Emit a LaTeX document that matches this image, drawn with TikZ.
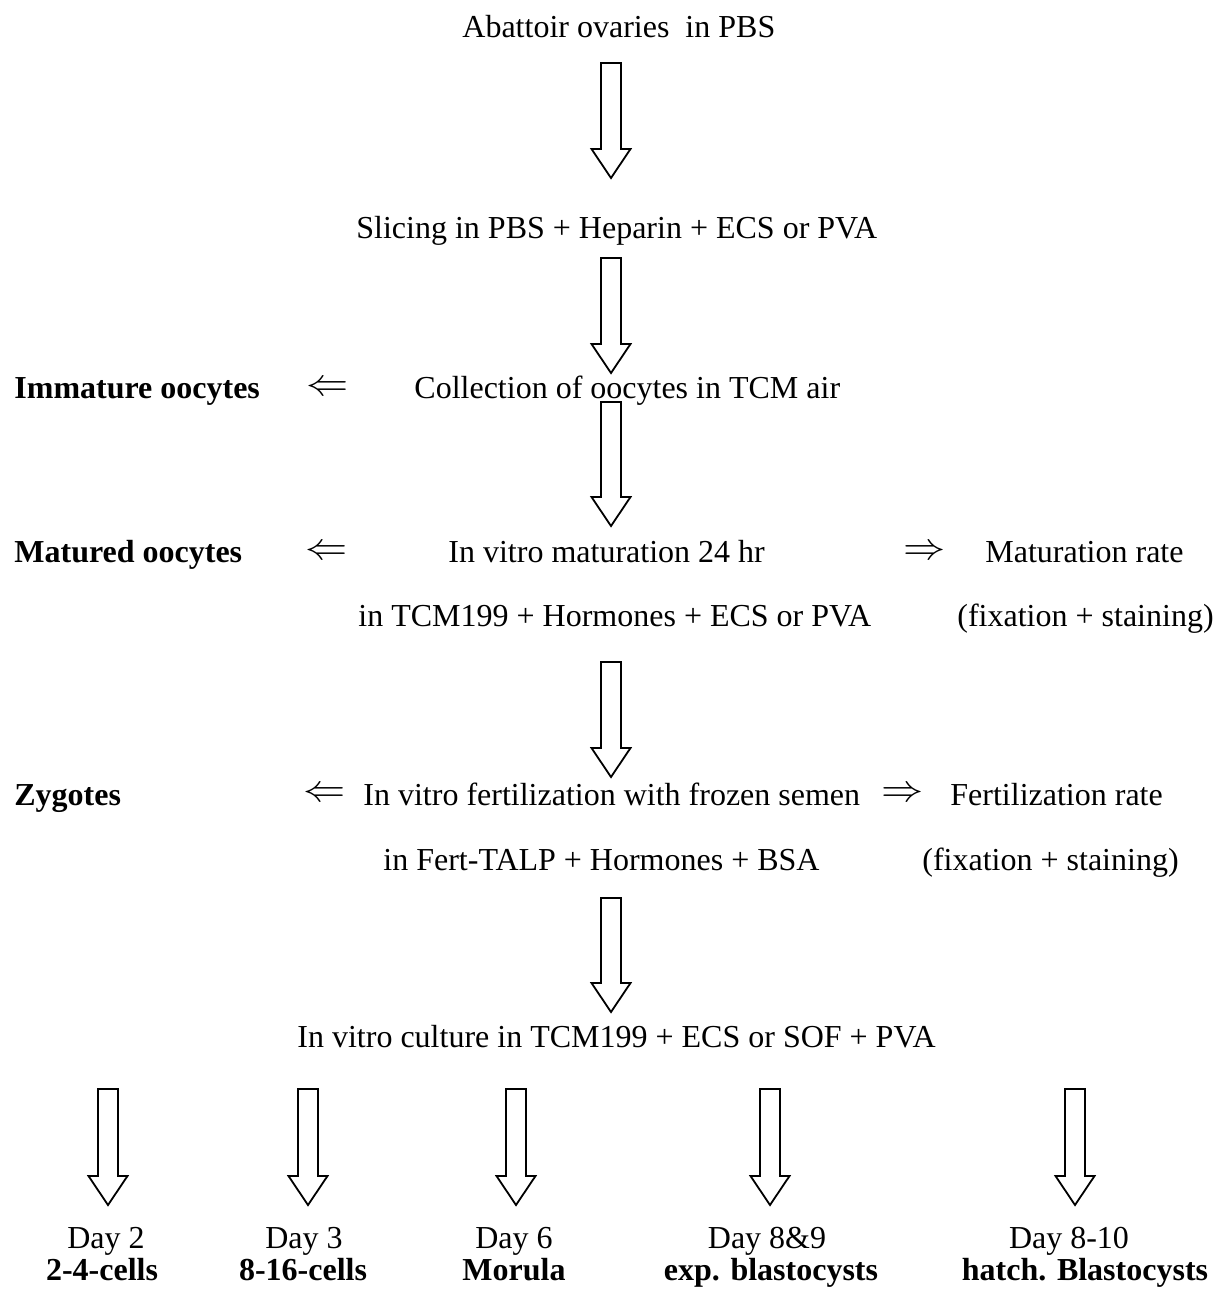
\documentclass[tikz,border=0pt]{standalone}
\usepackage{fontspec}
\setmainfont{Liberation Serif}
\usepackage{graphicx}
\usetikzlibrary{calc}
\tikzset{
  txt/.style={inner sep=0pt, anchor=base west, font=\fontsize{16pt}{19pt}\selectfont},
  btxt/.style={txt, font=\fontsize{16pt}{19pt}\selectfont\bfseries},
  ctxt/.style={txt, anchor=base},
  cbtxt/.style={btxt, anchor=base},
  sym/.style={inner sep=0pt, anchor=center, font=\fontsize{16pt}{19pt}\selectfont},
  blk/.style={draw=black, line width=0.9pt, fill=white, line join=miter}
}
\newcommand\blockarrow[2]{%
  \draw[blk] let \p1=(#1), \p2=(#2) in
    (\x1-5pt,\y1) -- (\x1-5pt,\y2+14.5pt) -- (\x1-9.75pt,\y2+14.5pt) -- (\x2,\y2)
    -- (\x1+9.75pt,\y2+14.5pt) -- (\x1+5pt,\y2+14.5pt) -- (\x1+5pt,\y1) -- cycle;}
\newcommand\lsym{\scalebox{1.22}[1.1]{$\Leftarrow$}}
\newcommand\rsym{\scalebox{1.22}[1.1]{$\Rightarrow$}}
\begin{document}
\begin{tikzpicture}[x=0.5pt,y=-0.5pt]
\useasboundingbox (0,0) rectangle (1219,1290);
% main column
\node[txt] (t1) at (462,38) {Abattoir ovaries\ \ in PBS};
\node[txt] (t2) at (356,238) {Slicing in PBS + Heparin + ECS or PVA};
\node[txt] (t3) at (414,398) {Collection of oocytes in TCM air};
\node[txt] (t4) at (448,562) {In vitro maturation 24 hr};
\node[txt] (t4b) at (358,626) {in TCM199 + Hormones + ECS or PVA};
\node[txt] (t5) at (363,805) {In vitro fertilization with frozen semen};
\node[txt] (t5b) at (383,870) {in Fert-TALP + Hormones + BSA};
\node[txt] (t6) at (297,1047) {In vitro culture in TCM199 + ECS or SOF + PVA};
% left column
\node[btxt] (imm) at (14,398) {Immature oocytes};
\node[btxt] (mat) at (14,562) {Matured oocytes};
\node[btxt] (zyg) at (14,805) {Zygotes};
\node[sym] (la1) at (328,389) {\lsym};
\node[sym] (la2) at (327,553) {\lsym};
\node[sym] (la3) at (325,795) {\lsym};
% right column
\node[sym] (ra1) at (925,553) {\rsym};
\node[sym] (ra2) at (903,795) {\rsym};
\node[txt] (mr) at (985,562) {Maturation rate};
\node[txt] (fs1) at (957,626) {(fixation + staining)};
\node[txt] (fr) at (950,805) {Fertilization rate};
\node[txt] (fs2) at (922,870) {(fixation + staining)};
% bottom row
\node[ctxt] (d1) at (106,1248) {Day 2};
\node[cbtxt] (s1) at (102,1280) {2-4-cells};
\node[ctxt] (d2) at (304,1248) {Day 3};
\node[cbtxt] (s2) at (303,1280) {8-16-cells};
\node[ctxt] (d3) at (514,1248) {Day 6};
\node[cbtxt] (s3) at (514,1280) {Morula};
\node[ctxt] (d4) at (767,1248) {Day 8\&9};
\node[cbtxt] (s4) at (771,1280) {exp. blastocysts};
\node[ctxt] (d5) at (1069,1248) {Day 8-10};
\node[cbtxt] (s5) at (1085,1280) {hatch. Blastocysts};
% arrow endpoints
\coordinate (a1s) at (611,63);   \coordinate (a1e) at (611,178);
\coordinate (a2s) at (611,258);  \coordinate (a2e) at (611,373);
\coordinate (a3s) at (611,402);  \coordinate (a3e) at (611,526);
\coordinate (a4s) at (611,662);  \coordinate (a4e) at (611,777);
\coordinate (a5s) at (611,898);  \coordinate (a5e) at (611,1012);
\coordinate (b1s) at (108,1089); \coordinate (b1e) at (108,1205);
\coordinate (b2s) at (308,1089); \coordinate (b2e) at (308,1205);
\coordinate (b3s) at (516,1089); \coordinate (b3e) at (516,1205);
\coordinate (b4s) at (770,1089); \coordinate (b4e) at (770,1205);
\coordinate (b5s) at (1075,1089); \coordinate (b5e) at (1075,1205);
\blockarrow{a1s}{a1e}
\blockarrow{a2s}{a2e}
\blockarrow{a3s}{a3e}
\blockarrow{a4s}{a4e}
\blockarrow{a5s}{a5e}
\blockarrow{b1s}{b1e}
\blockarrow{b2s}{b2e}
\blockarrow{b3s}{b3e}
\blockarrow{b4s}{b4e}
\blockarrow{b5s}{b5e}
\end{tikzpicture}
\end{document}
